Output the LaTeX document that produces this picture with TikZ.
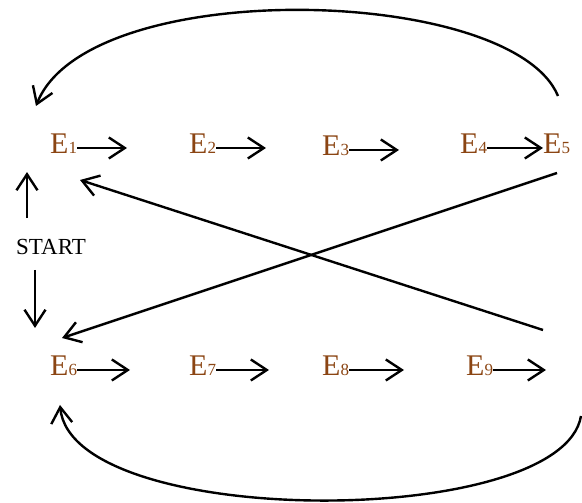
\documentclass[tikz,border=0pt]{standalone}
\usepackage{fontspec}
\setmainfont{Liberation Serif}
\usetikzlibrary{arrows.meta}
\definecolor{evbrown}{RGB}{139,69,19}
\newcommand{\evt}[1]{{\fontsize{30}{30}\selectfont E}{\fontsize{17}{17}\selectfont #1}}

\begin{document}
\begin{tikzpicture} [x=1pt,y=1pt]
 \tikzset{evt/.style={color=evbrown, inner sep=0, text height=12pt, text depth=0pt, anchor=base west},
          arr/.style={-{Straight Barb[length=16pt,width=21pt]}, line width=2.4pt}}
 \useasboundingbox (0,0) rectangle (582,503);
 % top row
 \node[evt] (e1) at (50,349) {\evt{1}};
 \node[evt] (e2) at (189,349) {\evt{2}};
 \node[evt] (e3) at (322,347) {\evt{3}};
 \node[evt] (e4) at (460,349) {\evt{4}};
 \node[evt] (e5) at (543,349) {\evt{5}};
 % bottom row
 \node[evt] (e6) at (50,127) {\evt{6}};
 \node[evt] (e7) at (189,127) {\evt{7}};
 \node[evt] (e8) at (322,127) {\evt{8}};
 \node[evt] (e9) at (466,127) {\evt{9}};
 \node[inner sep=0, font=\fontsize{23}{23}\selectfont] (start) at (51,256) {START};
 % loose ends of the arrows
 \coordinate (a1) at (127,355);
 \coordinate (a2) at (266,355);
 \coordinate (a3) at (399,353);
 \coordinate (b6) at (130,133);
 \coordinate (b7) at (269,133);
 \coordinate (b8) at (404,133);
 \coordinate (b9) at (546,133);
 \coordinate (up) at ([shift={(-24,67)}]start.north);
 \coordinate (dn) at ([shift={(-16,-73)}]start.south);
 \draw[arr] (e1.east) -- (a1);
 \draw[arr] (e2.east) -- (a2);
 \draw[arr] (e3.east) -- (a3);
 \draw[arr] (e4.east) -- (e5.west);
 \draw[arr] (e6.east) -- (b6);
 \draw[arr] (e7.east) -- (b7);
 \draw[arr] (e8.east) -- (b8);
 \draw[arr] (e9.east) -- (b9);
 % start
 \draw[arr] ([shift={(-24,21)}]start.north) -- (up);
 \draw[arr] ([shift={(-16,-15)}]start.south) -- (dn);
 % crossing
 \draw[arr] ([shift={(14,-19)}]e5.base west) -- ([shift={(12,38)}]e6.base west);
 \draw[arr] ([shift={(77,46)}]e9.base west) -- ([shift={(30,-26)}]e1.base west);
 % loops
 \draw[arr] ([shift={(15,58)}]e5.base west) .. controls (512,518) and (88,528) .. ([shift={(-14,48)}]e1.base west);
 \draw[arr] ([shift={(35,-46)}]b9) .. controls (562,-27) and (72,-27) .. ([shift={(10,-29)}]e6.base west);
\end{tikzpicture}
\end{document}
